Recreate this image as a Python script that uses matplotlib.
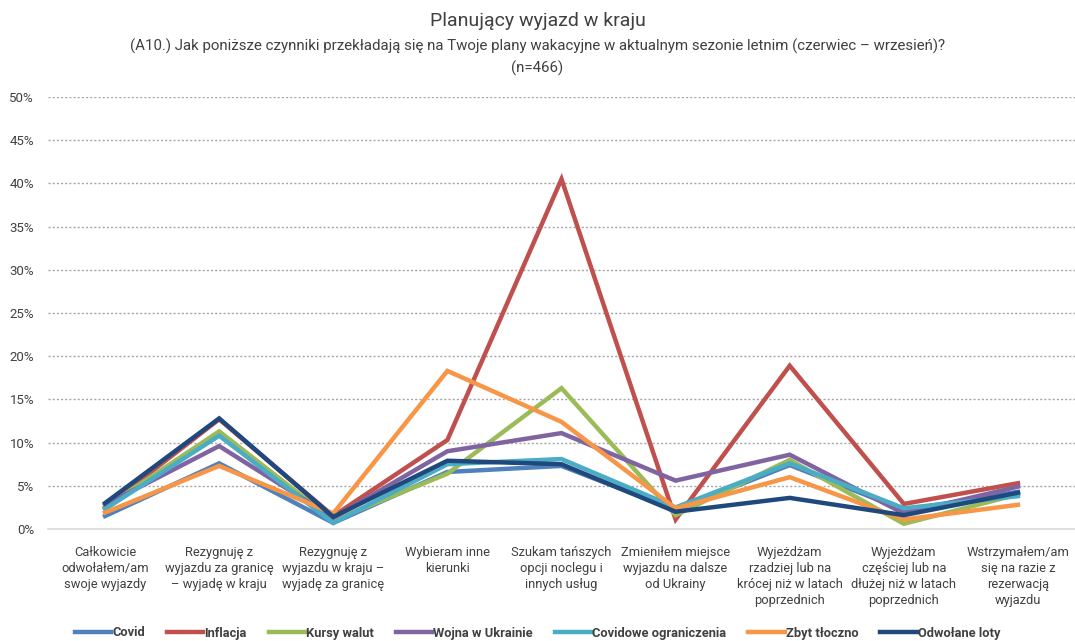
import matplotlib
matplotlib.use("Agg")
import matplotlib.pyplot as plt
import numpy as np

plt.rcParams['font.family'] = ['Roboto', 'DejaVu Sans']

categories = [
    "Całkowicie\nodwołałem/am\nswoje wyjazdy",
    "Rezygnuję z\nwyjazdu za granicę\n– wyjadę w kraju",
    "Rezygnuję z\nwyjazdu w kraju –\nwyjadę za granicę",
    "Wybieram inne\nkierunki",
    "Szukam tańszych\nopcji noclegu i\ninnych usług",
    "Zmieniłem miejsce\nwyjazdu na dalsze\nod Ukrainy",
    "Wyjeżdżam\nrzadziej lub na\nkrócej niż w latach\npoprzednich",
    "Wyjeżdżam\nczęściej lub na\ndłużej niż w latach\npoprzednich",
    "Wstrzymałem/am\nsię na razie z\nrezerwacją\nwyjazdu",
]

covid      = [1.5, 7.6, 0.7, 6.6, 7.3, 2.2, 7.4, 2.2, 4.3]
inflacja   = [2.5, 12.7, 1.5, 10.3, 40.5, 1.1, 18.9, 2.9, 5.3]
kursy      = [2.5, 11.3, 1.0, 6.4, 16.3, 1.6, 8.0, 0.6, 4.0]
wojna      = [2.8, 9.6, 1.3, 9.0, 11.1, 5.6, 8.6, 1.8, 4.9]
covid_ogr  = [2.3, 10.8, 0.7, 7.5, 8.1, 2.5, 7.6, 2.4, 3.8]
tloczno    = [1.9, 7.3, 1.8, 18.3, 12.4, 2.4, 6.0, 1.1, 2.8]
loty       = [3.0, 12.8, 1.4, 7.9, 7.5, 2.0, 3.6, 1.6, 4.2]

series = [
    ("Covid", covid, "#4F81BD"),
    ("Inflacja", inflacja, "#C0504D"),
    ("Kursy walut", kursy, "#9BBB59"),
    ("Wojna w Ukrainie", wojna, "#8064A2"),
    ("Covidowe ograniczenia", covid_ogr, "#4BACC6"),
    ("Zbyt tłoczno", tloczno, "#F79646"),
    ("Odwołane loty", loty, "#1F497D"),
]

yticks = [0, 5, 10, 15, 20, 25, 30, 35, 40, 45, 50]

fig = plt.figure(figsize=(10.75, 6.41), dpi=100)
ax = fig.add_axes([48/1075, 1-529/641, 1-48/1075, (529-97)/641])

x = np.arange(len(categories))
for name, vals, col in series:
    ax.plot(x, vals, color=col, lw=3.2, label=name, solid_joinstyle='miter', zorder=3)

ax.set_xlim(-0.5, len(categories)-0.5)
ax.set_ylim(0, 50)
ax.set_yticks(yticks)
ax.set_yticklabels([f"{v}%" for v in yticks], fontsize=9.5, color="#404040")
ax.set_xticks(x)
ax.set_xticklabels(categories, fontsize=9.3, color="#404040", linespacing=1.3, va='top')
ax.tick_params(axis='both', length=0)
ax.tick_params(axis='x', pad=12)
ax.tick_params(axis='y', pad=10)
for yv in yticks[1:]:
    ax.axhline(yv, color="#A6A6A6", lw=1, ls=(0, (1.5, 1.5)), zorder=1)
for s in ['top', 'right', 'left']:
    ax.spines[s].set_visible(False)
ax.spines['bottom'].set_color("#D9D9D9")
ax.spines['bottom'].set_linewidth(1.2)

fig.text(0.5, 1-21/641, "Planujący wyjazd w kraju", ha='center', va='center', fontsize=14, color="#404040")
fig.text(0.5, 1-46/641, "(A10.) Jak poniższe czynniki przekładają się na Twoje plany wakacyjne w aktualnym sezonie letnim (czerwiec – wrzesień)?",
         ha='center', va='center', fontsize=10.8, color="#404040")
fig.text(0.5, 1-68/641, "(n=466)", ha='center', va='center', fontsize=10.8, color="#404040")

leg = fig.legend(loc='center', bbox_to_anchor=(0.5, 1-633/641), ncol=7, frameon=False,
                 prop={'size': 9.3, 'weight': 'bold'}, handlelength=2.8, handletextpad=0.1,
                 columnspacing=1.7)
for t in leg.get_texts():
    t.set_color("#404040")

fig.savefig("out.png", dpi=100)
